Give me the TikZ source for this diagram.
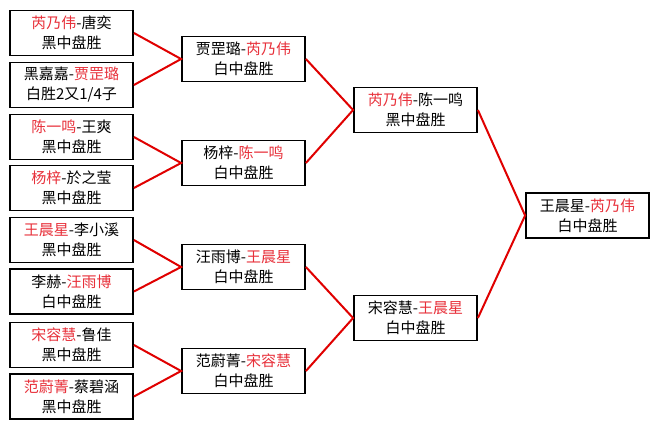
\documentclass[tikz,border=0pt]{standalone}
\usepackage{fontspec}
\setmainfont{Noto Sans CJK SC}
\definecolor{win}{HTML}{E8303A}
\definecolor{ln}{HTML}{E00000}
\begin{document}
\begin{tikzpicture}[x=1pt,y=-1pt,
  box/.style={draw=black, line width=1.8pt, fill=white, minimum width=123pt, minimum height=45pt, align=center, font=\fontsize{15}{20}\selectfont, inner sep=0pt},
  link/.style={draw=ln, line width=2pt}]
\fill[white] (0,0) rectangle (659,429);
\useasboundingbox (0,0) rectangle (659,429);
% round 1
\node[box] (a1) at (71.5,33)   {\textcolor{win}{芮乃伟}-唐奕\\黑中盘胜};
\node[box] (a2) at (71.5,85)   {黑嘉嘉-\textcolor{win}{贾罡璐}\\白胜2又1/4子};
\node[box] (a3) at (71.5,137)  {\textcolor{win}{陈一鸣}-王爽\\黑中盘胜};
\node[box] (a4) at (71.5,188)  {\textcolor{win}{杨梓}-於之莹\\黑中盘胜};
\node[box] (a5) at (71.5,240)  {\textcolor{win}{王晨星}-李小溪\\黑中盘胜};
\node[box] (a6) at (71.5,291.5){李赫-\textcolor{win}{汪雨博}\\白中盘胜};
\node[box] (a7) at (71.5,345)  {\textcolor{win}{宋容慧}-鲁佳\\黑中盘胜};
\node[box] (a8) at (71.5,396.5){\textcolor{win}{范蔚菁}-蔡碧涵\\黑中盘胜};
% round 2
\node[box] (b1) at (243.5,59)  {贾罡璐-\textcolor{win}{芮乃伟}\\白中盘胜};
\node[box] (b2) at (243.5,163) {杨梓-\textcolor{win}{陈一鸣}\\白中盘胜};
\node[box] (b3) at (243.5,267) {汪雨博-\textcolor{win}{王晨星}\\白中盘胜};
\node[box] (b4) at (243.5,371) {范蔚菁-\textcolor{win}{宋容慧}\\白中盘胜};
% round 3
\node[box] (c1) at (415.5,110) {\textcolor{win}{芮乃伟}-陈一鸣\\黑中盘胜};
\node[box] (c2) at (415.5,318) {宋容慧-\textcolor{win}{王晨星}\\白中盘胜};
% final
\node[box] (d1) at (587.5,215.5) {王晨星-\textcolor{win}{芮乃伟}\\白中盘胜};
% links
\draw[link] (a1.east) -- (b1.west) -- (a2.east);
\draw[link] (a3.east) -- (b2.west) -- (a4.east);
\draw[link] (a5.east) -- (b3.west) -- (a6.east);
\draw[link] (a7.east) -- (b4.west) -- (a8.east);
\draw[link] (b1.east) -- (c1.west) -- (b2.east);
\draw[link] (b3.east) -- (c2.west) -- (b4.east);
\draw[link] (c1.east) -- (d1.west) -- (c2.east);
\end{tikzpicture}
\end{document}
